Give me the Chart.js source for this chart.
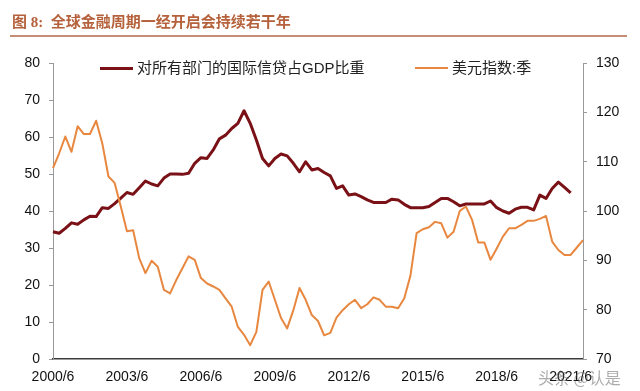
<!DOCTYPE html>
<html>
<head>
<meta charset="utf-8">
<script src="https://cdn.jsdelivr.net/npm/chart.js@4.4.1/dist/chart.umd.min.js"></script>
<style>
body{margin:0;background:#fff}
#wrap{position:relative;width:640px;height:391px;overflow:hidden}
#title{position:absolute;left:12px;top:10px;font:bold 15px "Liberation Serif","Noto Sans CJK SC";color:#b5613b;white-space:pre}
#rule{position:absolute;left:10px;top:35px;width:617px;height:2px;background:#c58e74}
.leg{position:absolute;top:59px;font:15px "Liberation Sans","Noto Sans CJK SC";color:#222;white-space:nowrap;line-height:18px}
.leg i{display:inline-block;width:33px;height:3px;vertical-align:middle;margin-right:4px;position:relative;top:-1px}
#mark{position:absolute;left:538px;top:365px;font:16px "Noto Sans CJK SC";color:rgba(90,90,90,0.5)}
canvas{position:absolute;left:0;top:0}
</style>
</head>
<body>
<div id="wrap">
  <canvas id="c" width="640" height="391"></canvas>
  <div id="title">图 8:  全球金融周期一经开启会持续若干年</div>
  <div id="rule"></div>
  <div class="leg" style="left:100px"><i style="background:#7a1116"></i>对所有部门的国际信贷占GDP比重</div>
  <div class="leg" style="left:415px"><i style="background:#e8873f;height:2px"></i>美元指数:季</div>
  <div id="mark">头条 @认是</div>
</div>
<script>
// quarterly, 2000/6 .. 2021/12
const labels = [];
const months = [6, 9, 12, 3];
for (let i = 0, y = 2000; i < 87; i++) {
  const m = months[i % 4];
  if (m === 3) y++;
  labels.push(y + '/' + m);
}
const xTickLabels = ['2000/6','2003/6','2006/6','2009/6','2012/6','2015/6','2018/6','2021/6'];

// 对所有部门的国际信贷占GDP比重 (left axis)
const creditGdp = [
  34.4, 34.0, 35.3, 36.8, 36.4, 37.6, 38.6, 38.5, 40.9, 40.7, 42.0, 43.5,
  45.0, 44.5, 46.3, 48.1, 47.3, 46.8, 48.9, 50.0, 50.0, 49.9, 50.2,
  52.9, 54.4, 54.2, 56.5, 59.5, 60.5, 62.3, 63.7, 67.1, 63.7, 59.2, 54.2,
  52.2, 54.2, 55.4, 54.9, 52.9, 50.6, 53.3, 51.1, 51.5, 50.4,
  49.5, 46.1, 46.8, 44.3, 44.6, 43.9, 43.0, 42.3, 42.3, 42.3, 43.2,
  43.0, 41.8, 40.9, 40.9, 40.9, 41.2, 42.3, 43.4, 43.4, 42.5,
  41.4, 41.9, 41.9, 41.9, 41.9, 42.7, 40.9, 40.0, 39.4, 40.5, 41.0,
  41.0, 40.3, 44.3, 43.4, 46.1, 47.8, 46.4, 44.9, null, null
];

// 美元指数:季 (right axis)
const usdIndex = [
  108.7, 111.7, 115.1, 112.0, 117.2, 115.6, 115.6, 118.3, 113.7, 107.0, 105.7, 100.9,
  95.9, 96.1, 90.4, 87.4, 89.9, 88.7, 84.0, 83.3, 86.0, 88.4, 90.8,
  90.1, 86.4, 85.3, 84.7, 84.0, 82.3, 80.6, 76.5, 74.9, 72.8, 75.5, 84.0,
  85.7, 82.0, 78.3, 76.2, 79.9, 84.4, 82.0, 78.9, 77.7, 74.8,
  75.3, 78.4, 79.9, 81.1, 82.0, 80.3, 81.1, 82.5, 82.0, 80.6, 80.6,
  80.3, 82.3, 86.9, 95.5, 96.3, 96.7, 97.8, 97.5, 94.6, 95.8,
  100.0, 100.9, 98.2, 93.6, 93.6, 90.1, 92.4, 94.8, 96.5, 96.5, 97.2,
  98.0, 98.0, 98.4, 99.0, 93.8, 92.1, 91.1, 91.1, 92.6, 94.1
];

const tickFont = {family: 'Liberation Sans', size: 14};

new Chart(document.getElementById('c'), {
  type: 'line',
  data: {
    labels: labels,
    datasets: [
      {label: '对所有部门的国际信贷占GDP比重', data: creditGdp, yAxisID: 'y',
       borderColor: '#7a1116', borderWidth: 3, pointRadius: 0, tension: 0, order: 2,
       borderJoinStyle: 'round'},
      {label: '美元指数:季', data: usdIndex, yAxisID: 'y1',
       borderColor: '#e8873f', borderWidth: 2, pointRadius: 0, tension: 0, order: 1,
       borderJoinStyle: 'round'}
    ]
  },
  options: {
    responsive: false,
    animation: false,
    devicePixelRatio: 1,
    layout: {padding: {top: 63, left: 0, right: 0, bottom: 0}},
    plugins: {legend: {display: false}, tooltip: {enabled: false}},
    scales: {
      x: {
        grid: {display: false, drawTicks: false},
        border: {color: '#3a3a3a', width: 1.5},
        ticks: {
          autoSkip: false, maxRotation: 0, padding: 10, color: '#111', font: tickFont,
          callback: (v, i) => xTickLabels.includes(labels[i]) ? labels[i] : ''
        },
        afterFit: s => { s.height = 32; }
      },
      y: {
        position: 'left', min: 0, max: 80,
        grid: {drawOnChartArea: false, tickLength: 4, color: '#999'},
        border: {color: '#999', width: 1},
        ticks: {stepSize: 10, padding: 9, color: '#111', font: tickFont},
        afterFit: s => { s.width = 53; }
      },
      y1: {
        position: 'right', min: 70, max: 130,
        grid: {drawOnChartArea: false, tickLength: 4, color: '#999'},
        border: {color: '#999', width: 1},
        ticks: {stepSize: 10, padding: 9, color: '#111', font: tickFont},
        afterFit: s => { s.width = 57; }
      }
    }
  }
});
</script>
</body>
</html>
